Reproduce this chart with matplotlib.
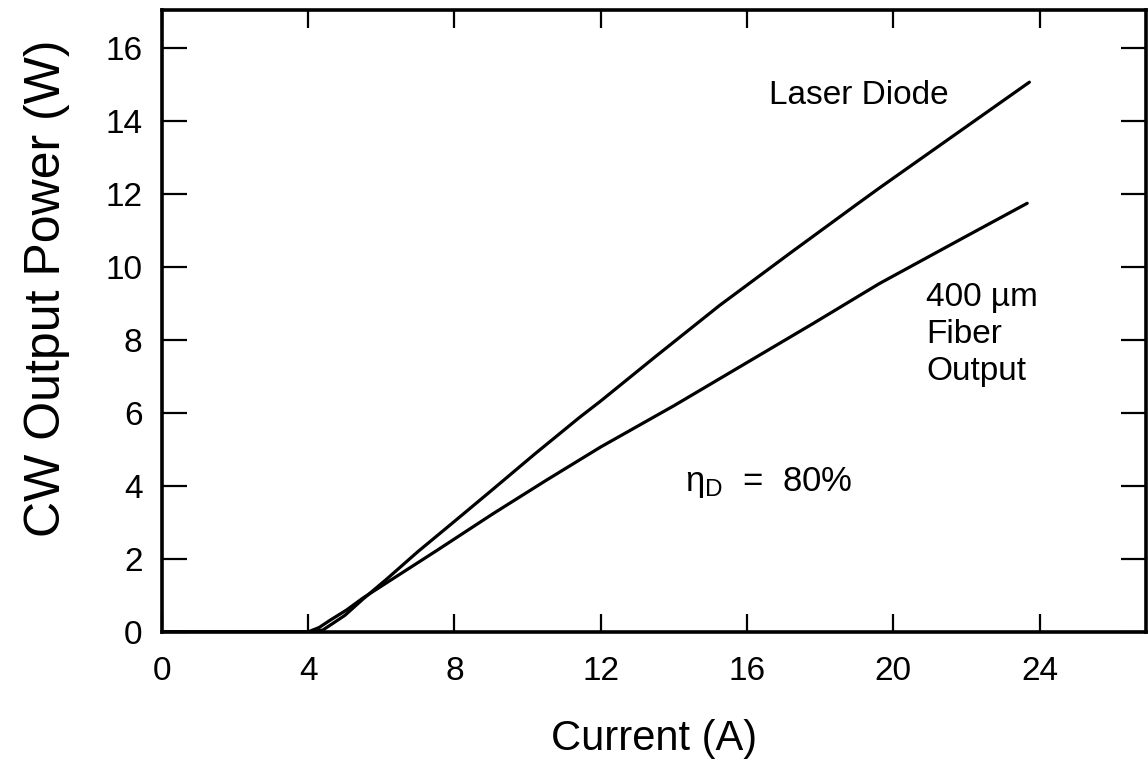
import matplotlib
matplotlib.use("Agg")
import matplotlib.pyplot as plt

plt.rcParams['font.family'] = ['Liberation Sans', 'DejaVu Sans']
plt.rcParams['mathtext.fontset'] = 'custom'
plt.rcParams['mathtext.rm'] = 'Liberation Sans'
plt.rcParams['mathtext.it'] = 'Liberation Sans'

# Laser diode output (W) vs current (A)
laser_current = [0.0, 2.0, 4.0, 4.4, 5.0, 5.5, 6.15, 7.0, 8.0, 9.04, 10.2, 11.42, 12.0,
                 13.5, 15.25, 17.2, 19.0, 19.62, 21.5, 23.72]
laser_power = [0.0, 0.0, 0.0, 0.05, 0.45, 0.9, 1.45, 2.2, 3.03, 3.9, 4.88, 5.88, 6.33,
               7.55, 8.95, 10.4, 11.72, 12.17, 13.5, 15.07]

# 400 um fiber output (W) vs current (A)
fiber_current = [0.0, 2.0, 4.0, 4.3, 4.6, 5.05, 5.5, 6.15, 7.5, 9.04, 10.5, 12.0,
                 14.0, 15.79, 17.8, 19.62, 22.0, 23.66]
fiber_power = [0.0, 0.0, 0.0, 0.12, 0.32, 0.6, 0.93, 1.35, 2.22, 3.23, 4.15, 5.07,
               6.2, 7.26, 8.45, 9.55, 10.85, 11.75]

x_ticks = [0, 4, 8, 12, 16, 20, 24]
y_ticks = [0, 2, 4, 6, 8, 10, 12, 14, 16]

fig = plt.figure(figsize=(11.48, 7.65), dpi=100)
ax = fig.add_axes([0.141, 0.174, 0.857, 0.813])

ax.plot(laser_current, laser_power, color='black', lw=2.3, solid_capstyle='round',
        solid_joinstyle='round')
ax.plot(fiber_current, fiber_power, color='black', lw=2.3, solid_capstyle='round',
        solid_joinstyle='round')

ax.set_xlim(0, 26.9)
ax.set_ylim(0, 17.05)
ax.set_xticks(x_ticks)
ax.set_yticks(y_ticks)
ax.set_xticklabels([str(v) for v in x_ticks], fontsize=24)
ax.set_yticklabels([str(v) for v in y_ticks], fontsize=24)

for s in ax.spines.values():
    s.set_linewidth(2.6)

ax.tick_params(axis='both', direction='in', top=True, right=True, width=1.6, color='black')
ax.tick_params(axis='x', length=13, pad=17)
ax.tick_params(axis='y', length=18, pad=14)

ax.set_xlabel('Current (A)', fontsize=30)
ax.xaxis.set_label_coords(0.5, -0.14)
ax.set_ylabel('CW Output Power (W)', fontsize=36)
ax.yaxis.set_label_coords(-0.093, 0.552)

ax.text(16.6, 14.7, 'Laser Diode', fontsize=24, ha='left', va='center')
ax.text(20.9, 9.6, '400 \u00b5m\nFiber\nOutput', fontsize=24, ha='left', va='top',
        linespacing=1.25)
ax.text(14.3, 4.1, r'$\mathregular{\eta_D}$  =  80%', fontsize=25, ha='left', va='center')

fig.savefig('out.png', dpi=100)
